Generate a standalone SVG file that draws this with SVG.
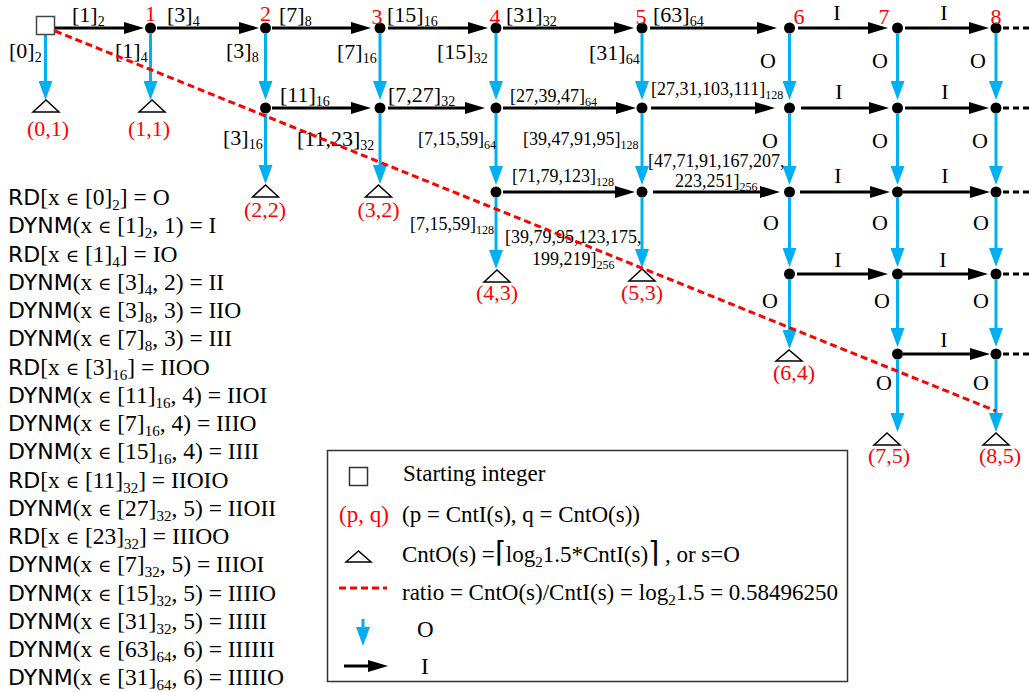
<svg xmlns="http://www.w3.org/2000/svg" width="1029" height="692" viewBox="0 0 1029 692">
<defs>
<style>
text{font-family:"Liberation Serif","DejaVu Serif",serif;font-size:22px;fill:#000}
.sm{font-size:18px}
.r{fill:#ff0000}
.m{text-anchor:middle}
.sb{font-size:14px}
.sm .sb{font-size:12px}
.L{font-size:23.5px}
.L .sb{font-size:15px}
.sans{font-family:"DejaVu Sans","Liberation Sans",sans-serif;font-size:22px}
.el{font-size:18px;font-family:"DejaVu Serif",serif}
.ceil{font-family:"DejaVu Sans",sans-serif;font-weight:200;font-size:29px}
.k{stroke:#000;stroke-width:3;fill:none;marker-end:url(#ak)}
.b{stroke:#00b0f0;stroke-width:3;fill:none;marker-end:url(#ab)}
.dot{fill:#000}
.tri{fill:none;stroke:#000;stroke-width:1.5}
.cont{stroke:#000;stroke-width:3;stroke-dasharray:6,4}
.red{stroke:#ff0000;stroke-width:3;stroke-dasharray:7,4;fill:none}
</style>
<marker id="ak" markerUnits="userSpaceOnUse" markerWidth="20" markerHeight="12" refX="10" refY="6" orient="auto"><path d="M0,0 L20,6 L0,12 z" fill="#000"/></marker>
<marker id="ab" markerUnits="userSpaceOnUse" markerWidth="19" markerHeight="14" refX="9" refY="7" orient="auto"><path d="M0,0 L19,7 L0,14 z" fill="#00b0f0"/></marker>
</defs>
<rect width="1029" height="692" fill="#fff"/>

<g id="connectors">
<line class="k" x1="55" y1="28" x2="134" y2="28"/>
<line class="k" x1="157" y1="28" x2="249" y2="28"/>
<line class="k" x1="272" y1="28" x2="361" y2="28"/>
<line class="k" x1="388" y1="28" x2="478" y2="28"/>
<line class="k" x1="503" y1="28" x2="624" y2="28"/>
<line class="k" x1="650" y1="28" x2="767" y2="28"/>
<line class="k" x1="798" y1="28" x2="878" y2="28"/>
<line class="k" x1="905" y1="28" x2="979" y2="28"/>
<line class="k" x1="272" y1="108" x2="361" y2="108"/>
<line class="k" x1="388" y1="108" x2="475" y2="108"/>
<line class="k" x1="503" y1="108" x2="626" y2="108"/>
<line class="k" x1="651" y1="108" x2="765" y2="108"/>
<line class="k" x1="801" y1="108" x2="879" y2="108"/>
<line class="k" x1="905" y1="108" x2="979" y2="108"/>
<line class="k" x1="503" y1="192" x2="625" y2="192"/>
<line class="k" x1="653" y1="192" x2="770" y2="192"/>
<line class="k" x1="800" y1="192" x2="880" y2="192"/>
<line class="k" x1="903" y1="192" x2="980" y2="192"/>
<line class="k" x1="797" y1="274" x2="878" y2="274"/>
<line class="k" x1="903" y1="274" x2="978" y2="274"/>
<line class="k" x1="903" y1="354" x2="980" y2="354"/>
<line class="cont" x1="1003" y1="28" x2="1029" y2="28"/>
<line class="cont" x1="1003" y1="108" x2="1029" y2="108"/>
<line class="cont" x1="1003" y1="192" x2="1029" y2="192"/>
<line class="cont" x1="1003" y1="274" x2="1029" y2="274"/>
<line class="cont" x1="1003" y1="354" x2="1029" y2="354"/>
<line class="b" x1="45.5" y1="35" x2="45.5" y2="90"/>
<line class="b" x1="150.5" y1="34" x2="150.5" y2="90"/>
<line class="b" x1="265.5" y1="34" x2="265.5" y2="90"/>
<line class="b" x1="265.5" y1="114" x2="265.5" y2="174"/>
<line class="b" x1="380" y1="34" x2="380" y2="90"/>
<line class="b" x1="380" y1="114" x2="380" y2="174"/>
<line class="b" x1="496" y1="34" x2="496" y2="90"/>
<line class="b" x1="496" y1="114" x2="496" y2="175"/>
<line class="b" x1="496" y1="198" x2="496" y2="259"/>
<line class="b" x1="642" y1="34" x2="642" y2="90"/>
<line class="b" x1="642" y1="114" x2="642" y2="175"/>
<line class="b" x1="642" y1="198" x2="642" y2="258"/>
<line class="b" x1="789.5" y1="34" x2="789.5" y2="90"/>
<line class="b" x1="789.5" y1="114" x2="789.5" y2="175"/>
<line class="b" x1="789.5" y1="198" x2="789.5" y2="257"/>
<line class="b" x1="789.5" y1="280" x2="789.5" y2="339"/>
<line class="b" x1="897.5" y1="34" x2="897.5" y2="90"/>
<line class="b" x1="897.5" y1="114" x2="897.5" y2="175"/>
<line class="b" x1="897.5" y1="198" x2="897.5" y2="257"/>
<line class="b" x1="897.5" y1="280" x2="897.5" y2="337"/>
<line class="b" x1="897.5" y1="360" x2="897.5" y2="422"/>
<line class="b" x1="996" y1="34" x2="996" y2="90"/>
<line class="b" x1="996" y1="114" x2="996" y2="175"/>
<line class="b" x1="996" y1="198" x2="996" y2="257"/>
<line class="b" x1="996" y1="280" x2="996" y2="337"/>
<line class="b" x1="996" y1="360" x2="996" y2="422"/>
</g>

<g id="edge-labels">
<text x="72" y="22">[1]<tspan class="sb" dy="4">2</tspan></text>
<text x="167" y="22">[3]<tspan class="sb" dy="4">4</tspan></text>
<text x="279" y="22">[7]<tspan class="sb" dy="4">8</tspan></text>
<text x="387" y="22">[15]<tspan class="sb" dy="4">16</tspan></text>
<text x="506" y="22">[31]<tspan class="sb" dy="4">32</tspan></text>
<text x="653" y="22">[63]<tspan class="sb" dy="4">64</tspan></text>
<text class="m" x="837" y="20">I</text>
<text class="m" x="944" y="20">I</text>

<text x="9" y="58">[0]<tspan class="sb" dy="4">2</tspan></text>
<text x="115" y="58">[1]<tspan class="sb" dy="4">4</tspan></text>
<text x="226" y="58">[3]<tspan class="sb" dy="4">8</tspan></text>
<text x="337" y="59">[7]<tspan class="sb" dy="4">16</tspan></text>
<text x="437" y="59">[15]<tspan class="sb" dy="4">32</tspan></text>
<text x="589" y="60">[31]<tspan class="sb" dy="4">64</tspan></text>
<text class="m" x="768" y="68">O</text>
<text class="m" x="880" y="68">O</text>
<text class="m" x="978" y="68">O</text>

<text x="280" y="102">[11]<tspan class="sb" dy="4">16</tspan></text>
<text x="388" y="102">[7,27]<tspan class="sb" dy="4">32</tspan></text>
<text class="sm" x="510" y="102">[27,39,47]<tspan class="sb" dy="4">64</tspan></text>
<text class="sm" x="651" y="95">[27,31,103,111]<tspan class="sb" dy="4">128</tspan></text>
<text class="m" x="839" y="99">I</text>
<text class="m" x="945" y="99">I</text>

<text x="223" y="145">[3]<tspan class="sb" dy="4">16</tspan></text>
<text x="297" y="146">[11,23]<tspan class="sb" dy="4">32</tspan></text>
<text class="sm" x="418" y="145">[7,15,59]<tspan class="sb" dy="4">64</tspan></text>
<text class="sm" x="523" y="145">[39,47,91,95]<tspan class="sb" dy="4">128</tspan></text>
<text class="m" x="770" y="148">O</text>
<text class="m" x="880" y="148">O</text>
<text class="m" x="980" y="148">O</text>

<text class="sm" x="512" y="182">[71,79,123]<tspan class="sb" dy="4">128</tspan></text>
<text class="sm" x="648" y="167">[47,71,91,167,207,</text>
<text class="sm" x="675" y="187">223,251]<tspan class="sb" dy="4">256</tspan></text>
<text class="m" x="838" y="183">I</text>
<text class="m" x="945" y="183">I</text>

<text class="sm" x="410" y="230">[7,15,59]<tspan class="sb" dy="4">128</tspan></text>
<text class="sm" x="505" y="243">[39,79,95,123,175,</text>
<text class="sm" x="532" y="265">199,219]<tspan class="sb" dy="4">256</tspan></text>
<text class="m" x="771" y="230">O</text>
<text class="m" x="880" y="230">O</text>
<text class="m" x="981" y="230">O</text>

<text class="m" x="838" y="267">I</text>
<text class="m" x="943" y="267">I</text>
<text class="m" x="770" y="308">O</text>
<text class="m" x="882" y="308">O</text>
<text class="m" x="981" y="308">O</text>
<text class="m" x="944" y="347">I</text>
<text class="m" x="884" y="390">O</text>
<text class="m" x="981" y="390">O</text>
</g>

<g id="start"><rect x="36.5" y="16.5" width="18" height="18" fill="#fff" stroke="#444" stroke-width="1.5"/></g>
<g id="n1"><circle class="dot" cx="150.5" cy="28" r="5.5"/><text class="r m" x="150.5" y="21">1</text></g>
<g id="n2"><circle class="dot" cx="265.5" cy="28" r="5.5"/><text class="r m" x="265.5" y="21">2</text></g>
<g id="n3"><circle class="dot" cx="380" cy="28" r="5.5"/><text class="r m" x="377" y="24">3</text></g>
<g id="n4"><circle class="dot" cx="496" cy="28" r="5.5"/><text class="r m" x="495" y="24">4</text></g>
<g id="n5"><circle class="dot" cx="642" cy="28" r="5.5"/><text class="r m" x="641" y="24">5</text></g>
<g id="n6"><circle class="dot" cx="789.5" cy="28" r="5.5"/><text class="r m" x="799" y="24">6</text></g>
<g id="n7"><circle class="dot" cx="897.5" cy="28" r="5.5"/><text class="r m" x="884" y="24">7</text></g>
<g id="n8"><circle class="dot" cx="996" cy="28" r="5.5"/><text class="r m" x="996" y="24">8</text></g>

<g id="row1">
<circle class="dot" cx="265.5" cy="108" r="5.5"/><circle class="dot" cx="380" cy="108" r="5.5"/><circle class="dot" cx="496" cy="108" r="5.5"/><circle class="dot" cx="642" cy="108" r="5.5"/><circle class="dot" cx="789.5" cy="108" r="5.5"/><circle class="dot" cx="897.5" cy="108" r="5.5"/><circle class="dot" cx="996" cy="108" r="5.5"/>
</g>
<g id="row2">
<circle class="dot" cx="496" cy="192" r="5.5"/><circle class="dot" cx="642" cy="192" r="5.5"/><circle class="dot" cx="789.5" cy="192" r="5.5"/><circle class="dot" cx="897.5" cy="192" r="5.5"/><circle class="dot" cx="996" cy="192" r="5.5"/>
</g>
<g id="row3">
<circle class="dot" cx="789.5" cy="274" r="5.5"/><circle class="dot" cx="897.5" cy="274" r="5.5"/><circle class="dot" cx="996" cy="274" r="5.5"/>
</g>
<g id="row4">
<circle class="dot" cx="897.5" cy="354" r="5.5"/><circle class="dot" cx="996" cy="354" r="5.5"/>
</g>

<g id="t01"><polygon class="tri" points="33,112 46,100 59,112"/><text class="r m" x="48" y="136">(0,1)</text></g>
<g id="t11"><polygon class="tri" points="139,112 152,100 165,112"/><text class="r m" x="149" y="136">(1,1)</text></g>
<g id="t22"><polygon class="tri" points="252.5,197 265.5,185 278.5,197"/><text class="r m" x="265" y="217">(2,2)</text></g>
<g id="t32"><polygon class="tri" points="365.5,197 378.5,185 391.5,197"/><text class="r m" x="378.5" y="217">(3,2)</text></g>
<g id="t43"><polygon class="tri" points="484,282 497,270 510,282"/><text class="r m" x="497" y="300">(4,3)</text></g>
<g id="t53"><polygon class="tri" points="629,281 642,269 655,281"/><text class="r m" x="642" y="300">(5,3)</text></g>
<g id="t64"><polygon class="tri" points="776,361 789,350 802,361"/><text class="r m" x="794" y="380">(6,4)</text></g>
<g id="t75"><polygon class="tri" points="874,445 887,433 900,445"/><text class="r m" x="889" y="463">(7,5)</text></g>
<g id="t85"><polygon class="tri" points="983,445 996,433 1009,445"/><text class="r m" x="1000" y="463">(8,5)</text></g>

<g id="ratio-line"><line class="red" x1="55" y1="31" x2="996" y2="411"/></g>

<g id="list">
<text class="L" x="8" y="205"><tspan class="sans">RD</tspan>[x <tspan class="el">∈</tspan> [0]<tspan class="sb" dy="5">2</tspan><tspan dy="-5">] = O</tspan></text>
<text class="L" x="8" y="233"><tspan class="sans">DYNM</tspan>(x <tspan class="el">∈</tspan> [1]<tspan class="sb" dy="5">2</tspan><tspan dy="-5">, 1) = I</tspan></text>
<text class="L" x="8" y="261.5"><tspan class="sans">RD</tspan>[x <tspan class="el">∈</tspan> [1]<tspan class="sb" dy="5">4</tspan><tspan dy="-5">] = IO</tspan></text>
<text class="L" x="8" y="290"><tspan class="sans">DYNM</tspan>(x <tspan class="el">∈</tspan> [3]<tspan class="sb" dy="5">4</tspan><tspan dy="-5">, 2) = II</tspan></text>
<text class="L" x="8" y="318"><tspan class="sans">DYNM</tspan>(x <tspan class="el">∈</tspan> [3]<tspan class="sb" dy="5">8</tspan><tspan dy="-5">, 3) = IIO</tspan></text>
<text class="L" x="8" y="346"><tspan class="sans">DYNM</tspan>(x <tspan class="el">∈</tspan> [7]<tspan class="sb" dy="5">8</tspan><tspan dy="-5">, 3) = III</tspan></text>
<text class="L" x="8" y="374.5"><tspan class="sans">RD</tspan>[x <tspan class="el">∈</tspan> [3]<tspan class="sb" dy="5">16</tspan><tspan dy="-5">] = IIOO</tspan></text>
<text class="L" x="8" y="403"><tspan class="sans">DYNM</tspan>(x <tspan class="el">∈</tspan> [11]<tspan class="sb" dy="5">16</tspan><tspan dy="-5">, 4) = IIOI</tspan></text>
<text class="L" x="8" y="431"><tspan class="sans">DYNM</tspan>(x <tspan class="el">∈</tspan> [7]<tspan class="sb" dy="5">16</tspan><tspan dy="-5">, 4) = IIIO</tspan></text>
<text class="L" x="8" y="459"><tspan class="sans">DYNM</tspan>(x <tspan class="el">∈</tspan> [15]<tspan class="sb" dy="5">16</tspan><tspan dy="-5">, 4) = IIII</tspan></text>
<text class="L" x="8" y="487.5"><tspan class="sans">RD</tspan>[x <tspan class="el">∈</tspan> [11]<tspan class="sb" dy="5">32</tspan><tspan dy="-5">] = IIOIO</tspan></text>
<text class="L" x="8" y="516"><tspan class="sans">DYNM</tspan>(x <tspan class="el">∈</tspan> [27]<tspan class="sb" dy="5">32</tspan><tspan dy="-5">, 5) = IIOII</tspan></text>
<text class="L" x="8" y="544"><tspan class="sans">RD</tspan>[x <tspan class="el">∈</tspan> [23]<tspan class="sb" dy="5">32</tspan><tspan dy="-5">] = IIIOO</tspan></text>
<text class="L" x="8" y="572"><tspan class="sans">DYNM</tspan>(x <tspan class="el">∈</tspan> [7]<tspan class="sb" dy="5">32</tspan><tspan dy="-5">, 5) = IIIOI</tspan></text>
<text class="L" x="8" y="600.5"><tspan class="sans">DYNM</tspan>(x <tspan class="el">∈</tspan> [15]<tspan class="sb" dy="5">32</tspan><tspan dy="-5">, 5) = IIIIO</tspan></text>
<text class="L" x="8" y="629"><tspan class="sans">DYNM</tspan>(x <tspan class="el">∈</tspan> [31]<tspan class="sb" dy="5">32</tspan><tspan dy="-5">, 5) = IIIII</tspan></text>
<text class="L" x="8" y="657"><tspan class="sans">DYNM</tspan>(x <tspan class="el">∈</tspan> [63]<tspan class="sb" dy="5">64</tspan><tspan dy="-5">, 6) = IIIIII</tspan></text>
<text class="L" x="8" y="685"><tspan class="sans">DYNM</tspan>(x <tspan class="el">∈</tspan> [31]<tspan class="sb" dy="5">64</tspan><tspan dy="-5">, 6) = IIIIIO</tspan></text>
</g>

<g id="legend">
<rect x="327.5" y="450.5" width="520" height="231" fill="none" stroke="#333" stroke-width="1.5"/>
<rect x="349.5" y="467.5" width="18" height="18" fill="#fff" stroke="#333" stroke-width="1.5"/>
<text class="L" style="font-size:23px" x="403" y="481">Starting integer</text>
<text class="L r" style="font-size:23px" x="339" y="522">(p, q)</text>
<text class="L" style="font-size:23px" x="402" y="522">(p = CntI(s), q = CntO(s))</text>
<polygon class="tri" points="346,562 358.5,551 371,562"/>
<text class="L" style="font-size:23px" x="402" y="562">CntO(s) =<tspan class="ceil">⌈</tspan>log<tspan class="sb" dy="5">2</tspan><tspan dy="-5">1.5*CntI(s)</tspan><tspan class="ceil">⌉</tspan> , or s=O</text>
<line class="red" x1="339" y1="588" x2="387" y2="588"/>
<text class="L" style="font-size:23px" x="402" y="600">ratio = CntO(s)/CntI(s) = log<tspan class="sb" dy="5">2</tspan><tspan dy="-5">1.5 = 0.58496250</tspan></text>
<line class="b" x1="363" y1="619" x2="363" y2="636"/>
<text class="L" style="font-size:23px" x="417" y="637">O</text>
<line class="k" x1="344" y1="666" x2="378" y2="666"/>
<text class="L" style="font-size:23px" x="421" y="674">I</text>
</g>
</svg>
